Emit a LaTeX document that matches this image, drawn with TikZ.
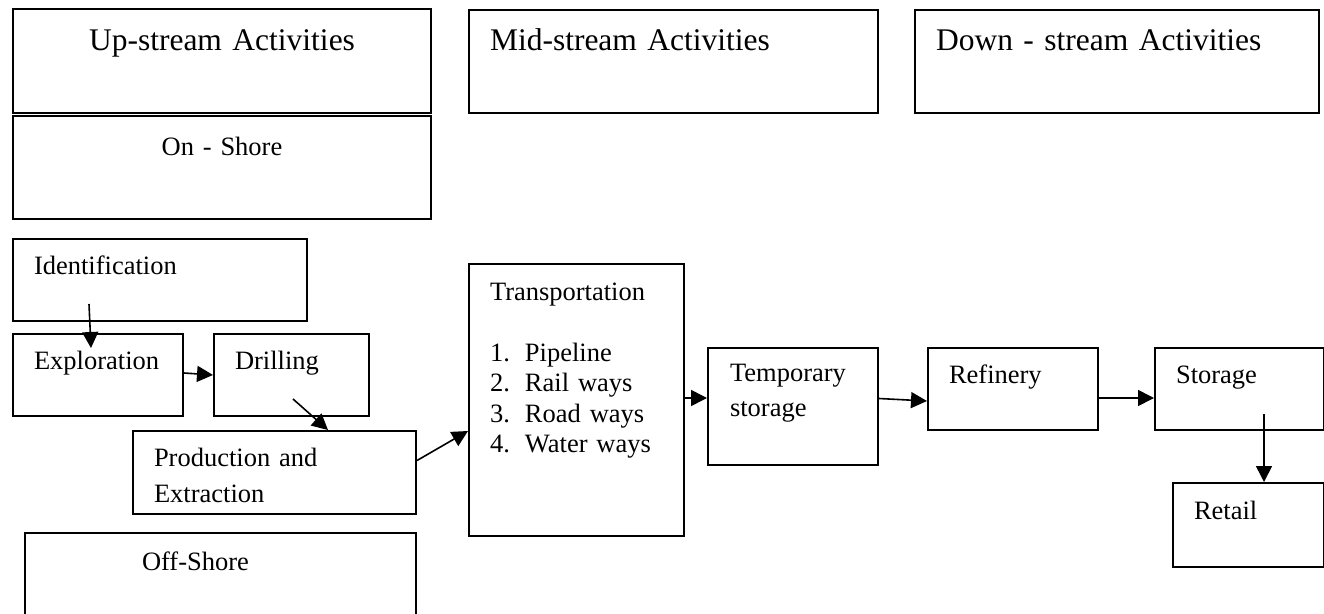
\documentclass[tikz,border=0pt]{standalone}
\usepackage{fontspec}
\setmainfont{Liberation Serif}
\usepackage{tikz}
\usetikzlibrary{arrows.meta,calc}
\newcommand{\normtxt}{\fontsize{26.5}{36}\selectfont}
\newcommand{\headtxt}{\fontsize{31.5}{40}\selectfont}
\newcommand{\listno}[1]{\makebox[35pt][l]{#1.}}
\tikzset{
  basebox/.style={rectangle,draw=black,line width=2pt,anchor=north west,
                  inner xsep=21pt,inner ysep=0pt,align=left,font=\normtxt,
                  text height=35pt,text depth=47pt},
  headnode/.style={basebox,font=\headtxt,text height=40pt,text depth=63pt},
  arr/.style={-{Triangle[length=16pt,width=16pt]},line width=1.6pt,color=black}
}
\begin{document}
\begin{tikzpicture}[x=1pt,y=-1pt]
  \useasboundingbox (0,0) rectangle (1324,613);
  \clip (0,0) rectangle (1324,613);

  % stage headers
  \node[headnode,align=center,inner xsep=10pt,text width=398pt,text height=41pt]
      (up) at (12,8) {Up-stream Activities};
  \node[headnode,text width=367pt] (mid) at (468,9) {Mid-stream Activities};
  \node[headnode,text width=362pt] (down) at (914,9) {Down - stream Activities};
  \node[basebox,align=center,inner xsep=10pt,text width=398pt,
        text height=39pt,text depth=64pt] (onshore) at (12,115) {On - Shore};

  % up-stream steps
  \node[basebox,text width=252pt] (ident) at (12,238) {Identification};
  \node[basebox,text width=128pt] (expl) at (12,333) {Exploration};
  \node[basebox,text width=113pt] (drill) at (213,333) {Drilling};
  \node[basebox,text width=241pt,text depth=48pt] (prod) at (132,430)
      {Production and\\Extraction};
  \node[basebox,inner xsep=117pt,text width=157pt,text height=37pt,
        text depth=83pt] (offshore) at (24,532) {Off-Shore};

  % mid- and down-stream steps
  \node[basebox,font=\fontsize{26.5}{30.5}\selectfont,text width=173pt,
        text height=36pt,text depth=236pt] (trans) at (468,263)
      {Transportation\\[30.5pt]
       \listno{1}Pipeline\\
       \listno{2}Rail ways\\
       \listno{3}Road ways\\
       \listno{4}Water ways};
  \node[basebox,font=\fontsize{26.5}{35}\selectfont,inner xsep=22pt,
        text width=126pt,text height=33.5pt,text depth=83.5pt] (temp)
      at (707,347) {Temporary\\storage};
  \node[basebox,text width=128pt] (ref) at (927,347) {Refinery};
  \node[basebox,text width=127pt] (stor) at (1154,347) {Storage};
  \node[basebox,text width=109pt,text height=36pt,text depth=48pt] (retail)
      at (1172,482) {Retail};

  % flow
  \draw[arr] ($(ident.south west)+(77,-18)$) -- ($(expl.north west)+(79,15)$);
  \draw[arr] ([yshift=2pt]expl.east) -- (drill.west);
  \draw[arr] ($(drill.south west)+(80,-18)$) -- ($(prod.north west)+(196,0)$);
  \draw[arr] ([yshift=12pt]prod.east) -- ([yshift=-31pt]trans.west);
  \draw[arr] ([yshift=2pt]trans.east) -- ([yshift=2pt]trans.east -| temp.west);
  \draw[arr] ([yshift=8pt]temp.east) -- ([yshift=-12pt]ref.west);
  \draw[arr] ([yshift=-9pt]ref.east) -- ([yshift=-9pt]stor.west);
  \draw[arr] ($(stor.south west)+(110,-17)$) -- ($(retail.north west)+(92,0)$);
\end{tikzpicture}
\end{document}
